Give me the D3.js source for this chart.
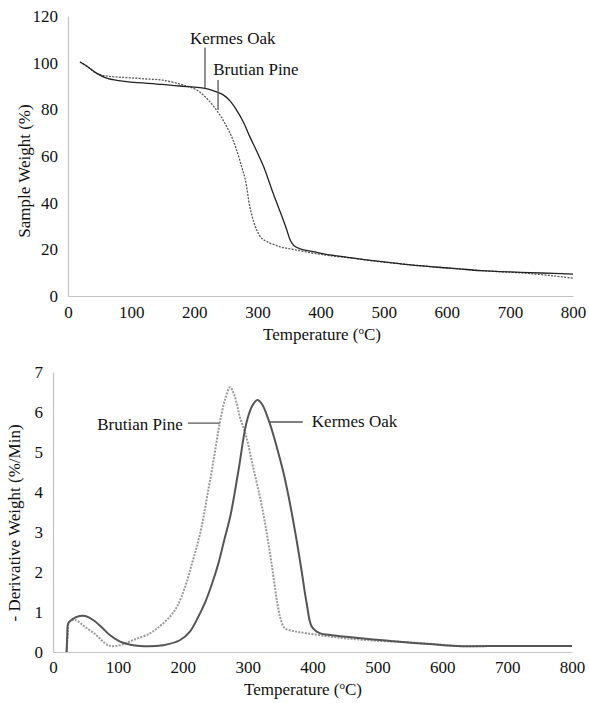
<!DOCTYPE html>
<html>
<head>
<meta charset="utf-8">
<script src="https://cdn.jsdelivr.net/npm/d3@7"></script>
<style>
  body { margin: 0; background: #fff; }
  svg text { font-family: "Liberation Serif", Tinos, "Times New Roman", "DejaVu Serif", serif; fill: #111; }
</style>
</head>
<body>
<div id="vis-container"></div>
<script>
const serif = '"Liberation Serif", Tinos, "Times New Roman", "DejaVu Serif", serif';

// TGA curves: [temperature °C, sample weight %]
const tgaKermes = [[19,100.3],[30,98.5],[45,95.5],[60,93.5],[80,92.3],[100,91.7],[150,90.7],[177,90],[200,89.5],[217,89],[232,87.8],[246,86.2],[257,83.5],[267,79.7],[278,74.5],[288,68.3],[299,62],[310,55.4],[325,44],[341,32.6],[347,28],[352,24],[358,21.5],[368,20.2],[389,19],[415,17.6],[450,16.3],[494,14.8],[530,13.7],[574,12.6],[620,11.6],[653,10.9],[700,10.3],[732,10],[770,9.7],[800,9.4]];
const tgaPine = [[19,100.3],[30,98.5],[45,95.5],[60,94.3],[80,93.8],[100,93.5],[125,93],[150,92.5],[175,91],[190,89.8],[204,88.3],[218,85.2],[230,81.5],[242,77],[252,72.3],[260,67.8],[267,62.6],[275,55.5],[281,49.7],[288,38.3],[294,32],[299,28.3],[306,25],[315,23.3],[336,21.1],[360,19.8],[389,18.3],[415,17.3],[450,16.2],[494,14.7],[530,13.7],[574,12.6],[620,11.6],[653,10.9],[700,10.2],[732,9.6],[770,8.6],[800,7.6]];

// DTG curves: [temperature °C, -derivative weight %/min]
const dtgKermes = [[21,0],[22,0.4],[23.6,0.72],[30,0.82],[41,0.9],[50,0.9],[62,0.8],[75,0.62],[88,0.42],[108,0.23],[134,0.15],[170,0.17],[196,0.3],[211,0.51],[223,0.85],[234,1.22],[245,1.7],[255,2.22],[264,2.8],[274,3.45],[286,4.55],[298,5.72],[307,6.15],[315,6.3],[322,6.2],[334,5.72],[345,5.12],[355,4.5],[363,3.9],[370,3.3],[377,2.65],[383,2.05],[391,1.22],[399,0.63],[411,0.47],[430,0.42],[452,0.38],[490,0.32],[530,0.26],[580,0.2],[622,0.15],[700,0.15],[800,0.15]];
const dtgPine = [[21,0],[23,0.5],[25,0.75],[34,0.8],[50,0.62],[67,0.42],[80,0.22],[88,0.15],[103,0.17],[124,0.3],[150,0.47],[165,0.65],[180,0.88],[190,1.1],[198,1.38],[207,1.8],[214,2.2],[221,2.6],[228,3.05],[234,3.55],[239,4.02],[245,4.55],[251,5.15],[257,5.72],[265,6.3],[273,6.62],[280,6.4],[288,5.88],[298,5.38],[308,4.65],[319,3.88],[326,3.3],[332,2.72],[337,2.2],[342,1.63],[346,1.2],[350,0.88],[357,0.6],[372,0.52],[391,0.47],[420,0.4],[452,0.34],[500,0.28],[550,0.24],[600,0.18],[622,0.15],[700,0.15],[800,0.15]];

const xTicks = [0, 100, 200, 300, 400, 500, 600, 700, 800];
const tgaTicks = [0, 20, 40, 60, 80, 100, 120];
const dtgTicks = [0, 1, 2, 3, 4, 5, 6, 7];

// label anchors in data units: [x, y]
const tgaLabels = [
  { name: "Kermes Oak", text: [261, 108], line: [[217, 106.5], [217, 89]], anchor: "middle" },
  { name: "Brutian Pine", text: [230, 94.7], line: [[237.7, 92.6], [237.7, 79.7]], anchor: "start" }
];
const dtgLabels = [
  { name: "Brutian Pine", text: [200, 5.56], line: [[208, 5.72], [257, 5.72]], anchor: "end" },
  { name: "Kermes Oak", text: [399, 5.62], line: [[334, 5.75], [385, 5.75]], anchor: "start" }
];

const svg = d3.select("#vis-container")
  .append("svg")
    .attr("width", 589)
    .attr("height", 703);

function drawPanel(opts) {
  const x = d3.scaleLinear().domain([0, 800]).range(opts.xRange);
  const y = d3.scaleLinear().domain(opts.yDomain).range(opts.yRange);
  const g = svg.append("g");

  // Axes
  const xa = g.append("g")
    .attr("transform", `translate(0,${opts.yRange[0]})`)
    .call(d3.axisBottom(x).tickValues(xTicks).tickFormat(d3.format("d")).tickSize(0).tickPadding(opts.xPad));
  const ya = g.append("g")
    .attr("transform", `translate(${opts.xRange[0]},0)`)
    .call(d3.axisLeft(y).tickValues(opts.yTicks).tickFormat(d3.format("d")).tickSize(0).tickPadding(10));
  [xa, ya].forEach(a => {
    a.attr("font-family", serif);
    a.select(".domain").attr("stroke", "#c4c4c4").attr("stroke-width", 1.2);
    a.selectAll("text").style("font-size", "17px").attr("fill", "#111");
  });

  const line = d3.line()
    .x(d => x(d[0]))
    .y(d => y(d[1]))
    .curve(d3.curveCatmullRom.alpha(0.5));

  // Lines
  g.append("path")
    .datum(opts.pine)
    .attr("fill", "none")
    .attr("stroke", opts.pineColor)
    .attr("stroke-width", opts.width)
    .attr("stroke-dasharray", "2,1.3")
    .attr("d", line);
  g.append("path")
    .datum(opts.oak)
    .attr("fill", "none")
    .attr("stroke", opts.oakColor)
    .attr("stroke-width", opts.width)
    .attr("d", line);

  // Labels
  opts.labels.forEach(l => {
    g.append("line")
      .attr("x1", x(l.line[0][0])).attr("y1", y(l.line[0][1]))
      .attr("x2", x(l.line[1][0])).attr("y2", y(l.line[1][1]))
      .attr("stroke", "#555").attr("stroke-width", 1.3);
    g.append("text")
      .attr("x", x(l.text[0])).attr("y", y(l.text[1]))
      .attr("text-anchor", l.anchor)
      .style("font-size", "17px")
      .text(l.name);
  });

  // Axis titles
  const xt = g.append("text")
    .attr("x", opts.xTitle[0]).attr("y", opts.xTitle[1])
    .attr("text-anchor", "middle")
    .style("font-size", "17px");
  xt.append("tspan").text("Temperature (");
  xt.append("tspan").attr("dy", -6).style("font-size", "11px").text("o");
  xt.append("tspan").attr("dy", 6).text("C)");

  g.append("text")
    .attr("transform", `translate(${opts.yTitle[0]},${opts.yTitle[1]}) rotate(-90)`)
    .attr("text-anchor", "middle")
    .style("font-size", "17px")
    .text(opts.yLabel);
}

drawPanel({
  xRange: [68, 573], yRange: [296, 16], yDomain: [0, 120], yTicks: tgaTicks, xPad: 10,
  oak: tgaKermes, pine: tgaPine, oakColor: "#222", pineColor: "#555", width: 1.3,
  labels: tgaLabels, xTitle: [322, 340], yTitle: [30, 171], yLabel: "Sample Weight (%)"
});

drawPanel({
  xRange: [53, 572], yRange: [652, 372], yDomain: [0, 7], yTicks: dtgTicks, xPad: 9,
  oak: dtgKermes, pine: dtgPine, oakColor: "#555", pineColor: "#999", width: 2,
  labels: dtgLabels, xTitle: [303, 695], yTitle: [20, 523], yLabel: "- Derivative Weight (%/Min)"
});
</script>
</body>
</html>
